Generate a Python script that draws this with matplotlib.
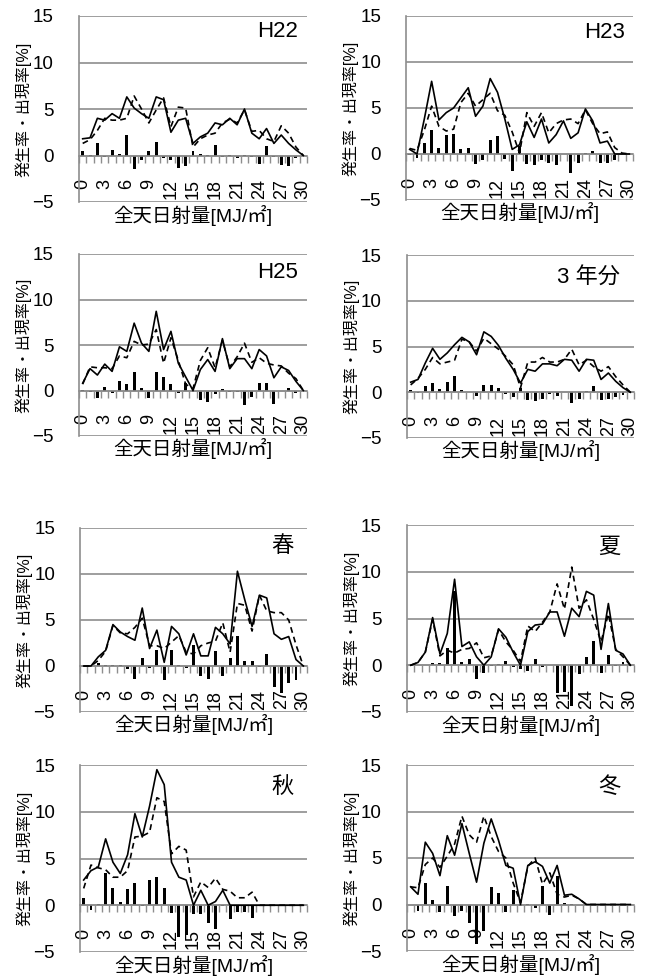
import matplotlib.pyplot as plt
import numpy as np

plt.rcParams['font.family'] = ['Liberation Sans', 'Noto Sans CJK JP']

# solar radiation classes [MJ/m2], one bar/point per class
energy = np.arange(31)
tick_values = list(range(0, 31, 3))
tick_labels = [str(v) for v in tick_values]

# occ = 発生率 (solid), freq = 出現率 (dashed), diff = occ - freq (bars)
h22_occ = [1.8, 1.9, 4.0, 3.8, 4.5, 4.0, 6.3, 5.1, 4.5, 4.0, 6.3, 6.0, 2.5, 3.8, 4.0, 1.3,
           2.0, 2.4, 3.5, 3.3, 4.0, 3.3, 5.0, 2.4, 1.8, 2.9, 1.3, 2.2, 1.3, 0.6, 0.0]
h22_freq = [1.3, 1.7, 2.7, 4.0, 3.8, 3.8, 4.0, 6.4, 5.0, 3.5, 4.9, 6.2, 3.1, 5.2, 5.1, 0.9,
            1.8, 2.2, 2.4, 3.5, 3.9, 3.5, 4.9, 2.6, 2.7, 1.8, 1.5, 3.2, 2.4, 0.9, 0.0]
h22_diff = [0.45, 0.1, 1.3, -0.2, 0.6, 0.2, 2.25, -1.5, -0.5, 0.5, 1.4, -0.3, -0.5, -1.3, -1.1, 0.5,
            0.2, 0.1, 1.1, -0.2, 0.1, -0.3, 0.1, -0.2, -0.9, 1.0, -0.2, -1.0, -1.1, -0.3, 0.0]

h23_occ = [0.5, 0.0, 3.8, 7.9, 3.7, 4.5, 5.0, 6.1, 7.2, 4.1, 5.2, 8.2, 6.7, 3.8, 0.5, 1.0,
           3.5, 1.8, 3.8, 1.2, 2.1, 3.6, 1.7, 2.3, 4.9, 3.6, 1.2, 1.4, 0.0, 0.0, 0.0]
h23_freq = [0.6, 0.4, 2.6, 5.2, 3.0, 2.5, 2.7, 5.6, 6.6, 5.2, 5.9, 6.6, 4.7, 4.2, 2.4, 0.1,
            4.5, 3.0, 4.5, 2.3, 3.3, 3.7, 3.8, 3.3, 4.8, 3.3, 2.2, 2.4, 0.7, 0.1, 0.0]
h23_diff = [-0.1, -0.4, 1.2, 2.6, 0.7, 2.1, 2.2, 0.5, 0.6, -1.1, -0.7, 1.5, 2.0, -0.5, -1.9, 0.9,
            -1.1, -1.2, -0.7, -1.0, -1.2, 0.0, -2.1, -1.0, 0.1, 0.3, -1.0, -1.0, -0.7, -0.1, 0.0]

h25_occ = [0.8, 2.4, 1.7, 2.9, 2.1, 4.8, 4.3, 7.4, 5.2, 4.3, 8.7, 4.5, 6.5, 3.0, 1.5, 0.0,
           2.3, 3.4, 2.1, 5.7, 2.4, 3.5, 3.5, 2.4, 4.5, 3.8, 1.4, 2.6, 2.2, 1.0, 0.0]
h25_freq = [0.7, 2.6, 2.5, 2.5, 2.4, 3.8, 3.6, 5.4, 5.0, 5.1, 6.7, 3.0, 5.8, 3.3, 0.7, 0.2,
            3.3, 4.7, 2.5, 5.5, 2.6, 3.7, 5.2, 3.1, 3.6, 3.0, 2.8, 2.7, 1.9, 1.3, 0.0]
h25_diff = [0.1, -0.2, -0.8, 0.4, -0.3, 1.0, 0.7, 2.0, 0.3, -0.8, 2.0, 1.5, 0.7, -0.3, 0.8, -0.2,
            -1.0, -1.3, -0.4, 0.2, -0.2, -0.2, -1.6, -0.7, 0.8, 0.8, -1.5, -0.1, 0.3, -0.3, 0.0]

all_occ = [1.1, 1.4, 3.2, 4.8, 3.6, 4.3, 5.2, 6.0, 5.5, 4.1, 6.6, 6.1, 5.1, 3.7, 2.5, 1.0,
           2.5, 2.3, 3.1, 3.1, 2.9, 3.6, 3.5, 2.3, 3.6, 3.5, 1.4, 2.1, 1.2, 0.5, 0.0]
all_freq = [0.8, 1.5, 2.5, 3.8, 3.1, 3.3, 3.5, 5.8, 5.5, 4.5, 5.9, 5.3, 4.7, 3.9, 3.0, 0.5,
            3.3, 3.3, 3.8, 3.3, 3.3, 3.6, 4.7, 3.0, 3.5, 2.8, 2.3, 2.8, 1.7, 0.8, 0.0]
all_diff = [0.3, -0.1, 0.7, 1.0, 0.4, 1.1, 1.8, 0.2, 0.0, -0.4, 0.8, 0.8, 0.5, -0.2, -0.5, 0.5,
            -0.8, -1.0, -0.7, -0.2, -0.4, 0.0, -1.2, -0.7, 0.1, 0.7, -0.9, -0.7, -0.5, -0.3, 0.0]

spring_occ = [0.0, 0.0, 1.0, 1.7, 4.5, 3.7, 3.2, 2.8, 6.3, 1.9, 3.9, 0.4, 4.3, 3.5, 1.2, 3.5,
              1.1, 1.1, 4.2, 3.5, 2.4, 10.3, 7.2, 4.3, 7.7, 7.4, 3.5, 2.9, 3.2, 0.7, 0.0]
spring_freq = [0.0, 0.0, 0.6, 1.6, 4.4, 3.6, 3.5, 4.2, 5.2, 2.2, 2.2, 1.9, 2.6, 3.3, 1.5, 1.3,
               2.2, 2.5, 2.7, 4.7, 1.5, 6.8, 6.6, 3.8, 7.7, 6.0, 5.8, 5.8, 5.0, 2.3, 0.0]
spring_diff = [0.0, 0.0, 0.3, 0.1, 0.1, 0.1, -0.3, -1.4, 0.9, -0.2, 1.7, -1.5, 1.7, 0.1, -0.2, 2.3,
               -1.1, -1.4, 1.6, -1.1, 0.9, 3.3, 0.5, 0.5, -0.1, 1.3, -2.3, -2.9, -1.9, -1.5, 0.0]

summer_occ = [0.0, 0.3, 1.4, 5.1, 1.2, 3.4, 9.2, 2.0, 2.5, 0.9, 0.0, 0.9, 3.9, 3.0, 1.4, 0.0,
              3.6, 4.3, 4.4, 5.7, 5.7, 3.1, 6.1, 5.2, 7.9, 7.5, 1.7, 6.6, 1.6, 1.2, 0.0]
summer_freq = [0.0, 0.3, 1.4, 4.9, 1.0, 1.6, 1.3, 1.7, 1.8, 2.4, 0.8, 1.0, 3.8, 2.5, 1.6, 0.4,
               4.2, 3.6, 4.6, 5.7, 8.7, 6.0, 10.5, 6.1, 7.0, 4.9, 2.5, 5.5, 1.7, 0.9, 0.0]
summer_diff = [0.0, 0.0, 0.0, 0.2, 0.2, 1.8, 7.9, 0.3, 0.7, -1.5, -0.8, -0.1, 0.1, 0.5, -0.2, -0.4,
               -0.6, 0.7, -0.2, 0.0, -3.0, -2.9, -4.4, -0.9, 0.9, 2.6, -0.8, 1.1, -0.1, 0.3, 0.0]

autumn_occ = [2.7, 3.7, 4.1, 7.1, 4.6, 3.4, 5.4, 9.8, 7.3, 10.6, 14.5, 12.9, 4.6, 3.0, 2.7, 0.0,
              1.6, 0.0, 0.4, 1.6, 0.0, 0.0, 0.0, 0.0, 0.0, 0.0, 0.0, 0.0, 0.0, 0.0, 0.0]
autumn_freq = [1.8, 4.3, 4.0, 3.8, 3.0, 3.0, 3.7, 7.3, 7.4, 7.8, 11.5, 11.1, 5.5, 6.3, 5.9, 0.9,
               2.5, 1.9, 2.9, 1.7, 1.5, 0.8, 0.8, 1.4, 0.0, 0.0, 0.0, 0.0, 0.0, 0.0, 0.0]
autumn_diff = [0.8, -0.5, 0.1, 3.4, 1.8, 0.4, 1.7, 2.4, -0.1, 2.7, 3.0, 1.8, -0.8, -3.4, -3.2, -0.9,
               -0.9, -1.9, -2.5, -0.1, -1.5, -0.7, -0.7, -1.4, 0.0, 0.0, 0.0, 0.0, 0.0, 0.0, 0.0]

winter_occ = [1.9, 1.1, 6.7, 5.5, 3.1, 7.4, 5.3, 8.7, 5.5, 2.4, 6.6, 9.2, 6.9, 4.2, 3.9, 0.0,
              4.2, 4.6, 4.1, 2.3, 4.2, 1.0, 1.1, 0.6, 0.0, 0.0, 0.0, 0.0, 0.0, 0.0, 0.0]
winter_freq = [1.9, 1.8, 4.3, 5.0, 4.0, 5.2, 6.5, 9.5, 7.5, 6.7, 9.5, 7.3, 5.7, 5.0, 2.3, 0.2,
               4.1, 5.0, 2.2, 3.4, 1.1, 0.8, 1.0, 0.6, 0.0, 0.0, 0.0, 0.0, 0.0, 0.0, 0.0]
winter_diff = [0.0, -0.7, 2.3, 0.5, -0.8, 2.0, -1.2, -0.7, -2.0, -4.2, -2.9, 1.9, 1.2, -0.8, 1.6, -0.2,
               0.1, -0.4, 2.0, -1.1, 3.1, 0.2, 0.1, 0.0, 0.0, 0.0, 0.0, 0.0, 0.0, 0.0, 0.0]

names = ['H22', 'H23', 'H25', '3 年分', '春', '夏', '秋', '冬']
occ_series = [h22_occ, h23_occ, h25_occ, all_occ, spring_occ, summer_occ, autumn_occ, winter_occ]
freq_series = [h22_freq, h23_freq, h25_freq, all_freq, spring_freq, summer_freq, autumn_freq, winter_freq]
diff_series = [h22_diff, h23_diff, h25_diff, all_diff, spring_diff, summer_diff, autumn_diff, winter_diff]

W, H = 651, 976
# plot boxes in pixels: left, top, right, bottom
boxes = [(79, 16, 307, 202), (406, 16, 633, 200),
         (79, 254, 307, 436), (407, 255, 634, 438),
         (80, 528, 307, 712), (407, 525, 634, 712),
         (80, 765, 307, 952), (407, 765, 634, 951)]
name_pos = [(0.96, 0.914), (0.965, 0.913), (0.96, 0.90), (0.94, 0.874),
            (0.94, 0.897), (0.94, 0.88), (0.94, 0.88), (0.94, 0.88)]

grey = '#8e8e8e'

fig = plt.figure(figsize=(W / 100, H / 100), dpi=100)

for k in range(8):
    l, t, r, b = boxes[k]
    ax = fig.add_axes([l / W, 1 - b / H, (r - l) / W, (b - t) / H])

    ax.bar(energy, diff_series[k], width=0.4, color='black', zorder=2)
    ax.plot(energy, occ_series[k], color='black', lw=1.2, zorder=3)
    ax.plot(energy, freq_series[k], color='black', lw=1.2, ls=(0, (3.5, 2.5)), zorder=3)

    ax.set_xlim(-0.5, 30.5)
    ax.set_ylim(-5, 15)
    ax.set_yticks([-5, 0, 5, 10, 15])
    ax.yaxis.grid(True, color=grey, lw=1.2)
    ax.set_axisbelow(True)

    for side in ['top', 'right']:
        ax.spines[side].set_visible(False)
    ax.spines['left'].set_color(grey)
    ax.spines['left'].set_linewidth(1.2)
    ax.spines['bottom'].set_color(grey)
    ax.spines['bottom'].set_linewidth(1.2)
    ax.spines['bottom'].set_position(('data', 0))

    ax.set_xticks(tick_values)
    ax.set_xticklabels(tick_labels, rotation=90)
    ax.set_xticks(np.arange(-0.5, 31, 1), minor=True)
    ax.tick_params(axis='x', which='major', length=0, pad=17, labelsize=13)
    ax.tick_params(axis='x', which='minor', length=5, width=1, color=grey, direction='out')
    ax.tick_params(axis='y', length=0, pad=18, labelsize=13.5)

    ax.set_ylabel('発生率・出現率[%]', fontsize=11.5)
    ax.yaxis.set_label_coords(-0.21, 0.5)
    ax.set_xlabel('全天日射量[MJ/㎡]', fontsize=14)
    ax.xaxis.set_label_coords(0.5, -0.07)
    ax.xaxis.label.set_va('center')

    ax.text(name_pos[k][0], name_pos[k][1], names[k], transform=ax.transAxes,
            ha='right', va='center', fontsize=16)

fig.savefig('out.png', dpi=100)
